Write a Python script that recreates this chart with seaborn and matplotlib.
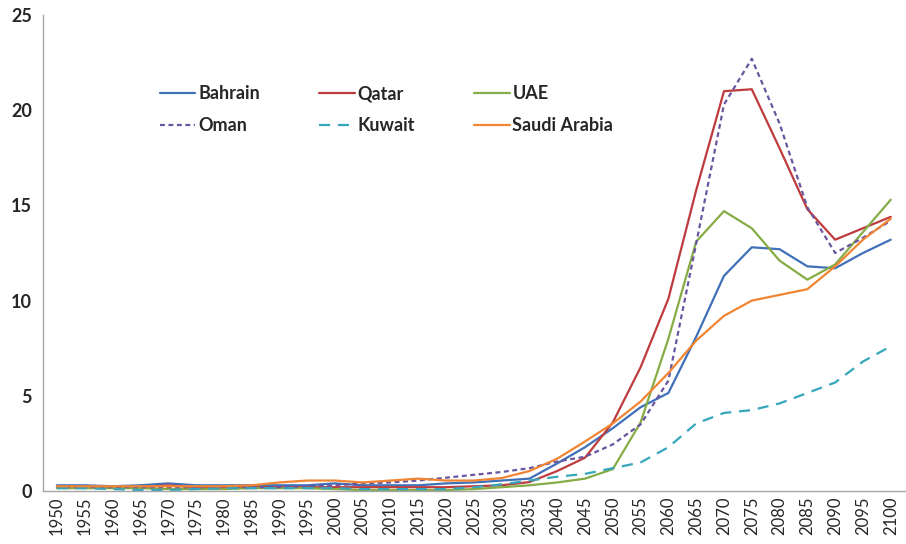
import numpy as np
import pandas as pd
import matplotlib
matplotlib.use("Agg")
import matplotlib.pyplot as plt
import seaborn as sns

years = list(range(1950, 2101, 5))

bahrain = [0.30, 0.30, 0.25, 0.30, 0.40, 0.30, 0.30, 0.30, 0.30, 0.30, 0.40, 0.30,
           0.30, 0.30, 0.40, 0.45, 0.55, 0.65, 1.45, 2.30, 3.30, 4.40, 5.15, 8.10,
           11.30, 12.80, 12.70, 11.80, 11.70, 12.50, 13.20]
qatar = [0.20, 0.20, 0.20, 0.20, 0.30, 0.20, 0.20, 0.20, 0.20, 0.20, 0.20, 0.20,
         0.20, 0.20, 0.20, 0.25, 0.30, 0.47, 1.05, 1.75, 3.60, 6.50, 10.10, 15.80,
         21.00, 21.10, 18.00, 14.80, 13.20, 13.80, 14.40]
uae = [0.15, 0.15, 0.15, 0.15, 0.10, 0.10, 0.10, 0.15, 0.15, 0.15, 0.10, 0.05,
       0.05, 0.05, 0.05, 0.10, 0.20, 0.30, 0.45, 0.65, 1.15, 3.60, 8.00, 13.10,
       14.70, 13.80, 12.10, 11.10, 11.90, 13.60, 15.30]
oman = [0.20, 0.20, 0.20, 0.20, 0.20, 0.20, 0.20, 0.20, 0.20, 0.25, 0.30, 0.40,
        0.45, 0.55, 0.70, 0.85, 1.00, 1.20, 1.55, 1.80, 2.45, 3.50, 5.80, 13.00,
        20.30, 22.70, 19.30, 14.90, 12.50, 13.30, 14.20]
kuwait = [0.15, 0.15, 0.10, 0.05, 0.05, 0.10, 0.15, 0.15, 0.15, 0.15, 0.15, 0.10,
          0.10, 0.10, 0.10, 0.20, 0.35, 0.55, 0.75, 0.90, 1.20, 1.50, 2.30, 3.55,
          4.10, 4.25, 4.60, 5.15, 5.70, 6.80, 7.60]
saudi = [0.25, 0.25, 0.25, 0.25, 0.25, 0.25, 0.25, 0.30, 0.45, 0.55, 0.55, 0.45,
         0.55, 0.65, 0.55, 0.55, 0.68, 1.05, 1.70, 2.60, 3.55, 4.70, 6.20, 7.90,
         9.20, 10.00, 10.30, 10.60, 11.80, 13.20, 14.30]

countries = ["Bahrain", "Qatar", "UAE", "Oman", "Kuwait", "Saudi Arabia"]
values = [bahrain, qatar, uae, oman, kuwait, saudi]

colors = {"Bahrain": "#3F70B8", "Qatar": "#BE3B3E", "UAE": "#86AC45",
          "Oman": "#6A55A0", "Kuwait": "#35A6BB", "Saudi Arabia": "#F08533"}
dashes = {"Bahrain": "", "Qatar": "", "UAE": "", "Oman": (2.2, 1.6),
          "Kuwait": (5, 3.5), "Saudi Arabia": ""}

rows = []
for name, vals in zip(countries, values):
    for i, v in enumerate(vals):
        rows.append({"pos": i, "value": v, "country": name})
df = pd.DataFrame(rows)

sns.set_style("white")
plt.rcParams["font.family"] = ["Lato", "DejaVu Sans"]

fig = plt.figure(figsize=(9.06, 5.44), dpi=100)
ax = fig.add_axes([0.0475, 0.0974, 0.951, 0.875])

sns.lineplot(data=df, x="pos", y="value", hue="country", style="country",
             hue_order=countries, style_order=countries, palette=colors,
             dashes=dashes, linewidth=1.6, ax=ax, legend=True)

ax.set_xlim(-0.5, len(years) - 0.5)
ax.set_ylim(0, 25)
ax.set_yticks([0, 5, 10, 15, 20, 25])
ax.set_yticklabels([str(t) for t in [0, 5, 10, 15, 20, 25]],
                   fontsize=13, fontweight="bold")
ax.set_xticks(range(len(years)))
ax.set_xticklabels([str(y) for y in years], rotation=90, fontsize=12)
ax.set_xticks(np.arange(-0.5, len(years), 1), minor=True)
ax.tick_params(axis="x", which="major", length=0, pad=4)
ax.tick_params(axis="x", which="minor", length=5, color="#A6A6A6", width=1)
ax.tick_params(axis="y", length=5, color="#A6A6A6", width=1, pad=3)
ax.set_xlabel("")
ax.set_ylabel("")

for s in ["top", "right"]:
    ax.spines[s].set_visible(False)
for s in ["left", "bottom"]:
    ax.spines[s].set_color("#A6A6A6")
    ax.spines[s].set_linewidth(1)

# legend: 2 rows x 3 cols filled row-wise
handles, labels = ax.get_legend_handles_labels()
hmap = dict(zip(labels, handles))
order = ["Bahrain", "Oman", "Qatar", "Kuwait", "UAE", "Saudi Arabia"]
leg = ax.legend([hmap[k] for k in order], order, ncol=3, frameon=False,
                loc="upper left", bbox_to_anchor=(0.117, 0.887),
                handlelength=1.95, handletextpad=0.15, columnspacing=3.3,
                labelspacing=0.85, prop={"weight": "bold", "size": 13})

fig.savefig("out.png", dpi=100)
